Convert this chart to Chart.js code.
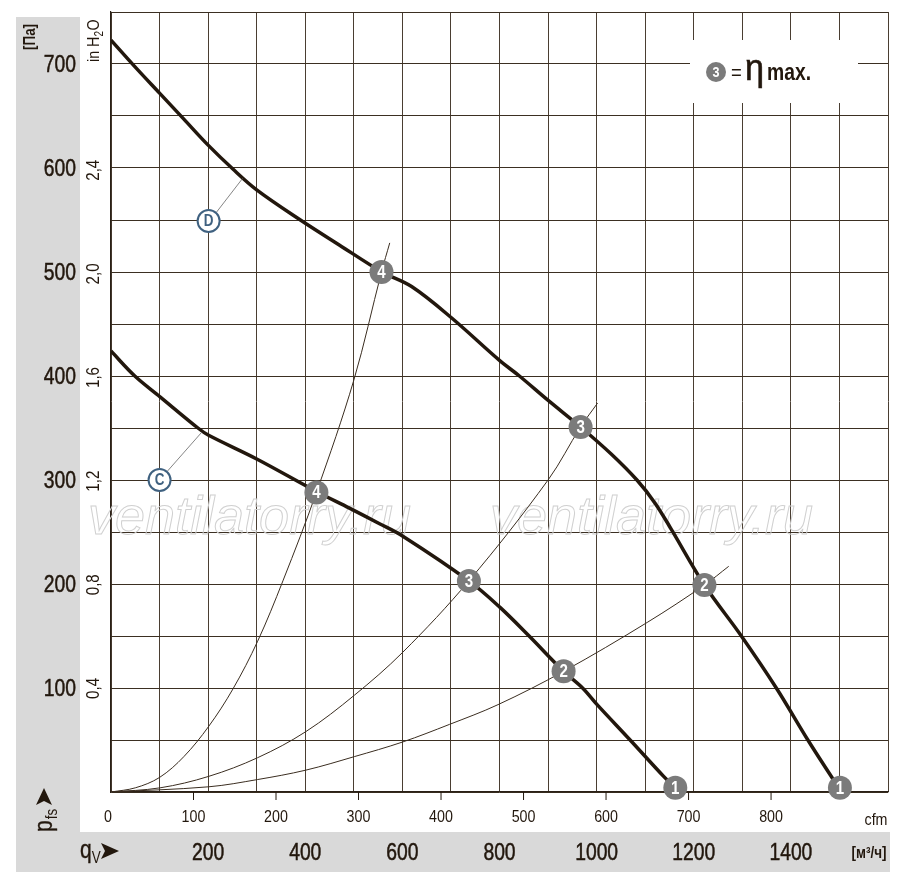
<!DOCTYPE html>
<html>
<head>
<meta charset="utf-8">
<script src="https://cdn.jsdelivr.net/npm/chart.js@4.4.0/dist/chart.umd.min.js"></script>
<style>
  html, body { margin: 0; padding: 0; background: #fff; }
  canvas { display: block; }
</style>
</head>
<body>
<canvas id="chart" width="900" height="876"></canvas>
<script>
// Характеристики вентилятора: qV в м³/ч, pfs в Па
var curveDx = [0, 50, 100, 150, 200, 251, 300, 390, 470, 558, 619, 701, 800, 841, 899, 967, 1030, 1083, 1120, 1152, 1222, 1298, 1370, 1435, 1486, 1501];
var curveDy = [723, 697, 672, 647, 622, 599, 579, 550, 526, 500, 486, 456, 415, 400, 377, 351, 325, 300, 278, 254, 199, 150, 100, 50, 13, 3];

var curveCx = [0, 49, 101, 179, 201, 301, 423, 491, 553, 601, 737, 800, 861, 932, 971, 1001, 1069, 1138, 1162];
var curveCy = [424, 400, 380, 350, 343, 320, 289, 273, 258, 246, 203, 178, 150, 116, 100, 84, 50, 15, 4];

// Кривые сети (тонкие линии)
var sys4x = [0, 50, 100, 150, 201, 251, 302, 354, 423, 500, 557, 574];
var sys4y = [0, 4, 14, 34, 63, 99, 145, 203, 288, 396, 500, 528];
var sys3x = [0, 101, 201, 302, 401, 501, 600, 737, 900, 967, 1002];
var sys3y = [0, 4, 15, 33, 58, 93, 134, 203, 300, 351, 374];
var sys2x = [0, 201, 302, 401, 501, 600, 697, 797, 932, 1104, 1222, 1272];
var sys2y = [0, 5, 12, 21, 34, 48, 65, 84, 116, 163, 199, 217];

// Рабочие точки
var markerX = [557, 967, 1222, 1501, 423, 737, 932, 1162];
var markerY = [500, 351, 199, 4, 288, 203, 116, 4];
var markerNum = ['4', '3', '2', '1', '4', '3', '2', '1'];

// Подписи осей
var paTicks = [100, 200, 300, 400, 500, 600, 700];
var inH2OTicks = ['0,4', '0,8', '1,2', '1,6', '2,0', '2,4'];
var cfmTicks = [0, 100, 200, 300, 400, 500, 600, 700, 800];
var m3hTicks = [200, 400, 600, 800, 1000, 1200, 1400];

var FONT = "'Liberation Sans', Arial, sans-serif";
var INK = '#22170d';
var SQ = 0.84; // сжатие шрифта по горизонтали (узкий гротеск)

function pts(xs, ys) {
    return xs.map(function (v, i) { return { x: v, y: ys[i] }; });
}

// текст с горизонтальным сжатием и поворотом
function txt(ctx, s, x, y, size, o) {
    o = o || {};
    ctx.save();
    ctx.translate(x, y);
    if (o.rot) ctx.rotate(o.rot);
    ctx.scale(o.sx || SQ, 1);
    ctx.font = (o.bold ? 'bold ' : '') + size + 'px ' + FONT;
    ctx.textAlign = o.align || 'left';
    ctx.textBaseline = o.base || 'alphabetic';
    ctx.fillStyle = o.color || INK;
    ctx.fillText(s, 0, 0);
    if (o.heavy) {
        ctx.strokeStyle = o.color || INK;
        ctx.lineWidth = o.heavy;
        ctx.strokeText(s, 0, 0);
    }
    var w = ctx.measureText(s).width * (o.sx || SQ);
    ctx.restore();
    return w;
}

var decorPlugin = {
    id: 'decor',
    beforeDraw: function (chart) {
        var ctx = chart.ctx;
        ctx.save();
        ctx.fillStyle = '#d9d9d9';
        ctx.fillRect(16, 17, 64, 855);
        ctx.fillRect(16, 832, 874, 40);
        ctx.restore();
    },
    beforeDatasetsDraw: function (chart) {
        // водяной знак
        var ctx = chart.ctx;
        ctx.save();
        ctx.font = "italic 54px 'Liberation Sans', sans-serif";
        ctx.strokeStyle = '#d0d0d0';
        ctx.lineWidth = 1;
        ctx.strokeText('ventilatorry.ru', 88, 534);
        ctx.strokeText('ventilatorry.ru', 490, 534);
        ctx.restore();
    },
    afterDatasetsDraw: function (chart) {
        var ctx = chart.ctx;
        var xs = chart.scales.x, ys = chart.scales.y;

        // номера рабочих точек
        markerNum.forEach(function (n, i) {
            txt(ctx, n, xs.getPixelForValue(markerX[i]), ys.getPixelForValue(markerY[i]) + 1, 18,
                { bold: true, align: 'center', base: 'middle', color: '#fff' });
        });

        // обозначения кривых C и D
        var tags = [
            { t: 'D', x: 201, y: 549, lx: 271, ly: 590 },
            { t: 'C', x: 100, y: 300, lx: 187, ly: 346 }
        ];
        ctx.save();
        tags.forEach(function (g) {
            var cx = xs.getPixelForValue(g.x), cy = ys.getPixelForValue(g.y);
            var ex = xs.getPixelForValue(g.lx), ey = ys.getPixelForValue(g.ly);
            ctx.strokeStyle = '#666';
            ctx.lineWidth = 0.8;
            ctx.beginPath();
            ctx.moveTo(cx + 8, cy - 9);
            ctx.lineTo(ex, ey);
            ctx.stroke();
            ctx.beginPath();
            ctx.arc(cx, cy, 11, 0, Math.PI * 2);
            ctx.fillStyle = '#fff';
            ctx.fill();
            ctx.strokeStyle = '#3f6180';
            ctx.lineWidth = 2;
            ctx.stroke();
            txt(ctx, g.t, cx, cy + 1, 16, { bold: true, align: 'center', base: 'middle', color: '#3f6180' });
        });

        // легенда 3 = η max.
        ctx.fillStyle = '#fff';
        ctx.fillRect(690, 40, 168, 63);
        ctx.beginPath();
        ctx.arc(716, 72, 10, 0, Math.PI * 2);
        ctx.fillStyle = '#7b7b7b';
        ctx.fill();
        ctx.restore();
        txt(ctx, '3', 716, 73, 15, { bold: true, align: 'center', base: 'middle', color: '#fff' });
        txt(ctx, '=', 731, 80, 22, {});
        txt(ctx, 'η', 745, 80, 36, { sx: 0.95, heavy: 0.6 });
        txt(ctx, 'max.', 767, 80, 23, { bold: true });
    },
    afterDraw: function (chart) {
        var ctx = chart.ctx;
        var xs = chart.scales.x, ys = chart.scales.y;
        var R = -Math.PI / 2;

        // Па
        paTicks.forEach(function (v) {
            txt(ctx, String(v), 76, ys.getPixelForValue(v) + 8, 23, { align: 'right', heavy: 0.5 });
        });

        // in H2O (повернутые)
        inH2OTicks.forEach(function (t) {
            var pa = parseFloat(t.replace(',', '.')) * 249.1;
            txt(ctx, t, 99, ys.getPixelForValue(pa), 18, { rot: R, align: 'center' });
        });
        var w = txt(ctx, 'in H', 99, 62, 17, { rot: R });
        txt(ctx, '2', 103, 62 - w, 12, { rot: R });
        txt(ctx, 'O', 99, 62 - w - 6, 17, { rot: R });

        txt(ctx, '[Па]', 35, 50, 16, { rot: R, bold: true });

        // p_fs ➤
        w = txt(ctx, 'p', 52, 832, 25, { rot: R, heavy: 0.4 });
        txt(ctx, 'fs', 57, 832 - w - 1, 16, { rot: R });
        ctx.save();
        ctx.fillStyle = INK;
        ctx.translate(52, 832);
        ctx.rotate(R);
        ctx.beginPath();
        ctx.moveTo(27, -16);
        ctx.lineTo(44, -8);
        ctx.lineTo(27, 0);
        ctx.lineTo(31, -8);
        ctx.closePath();
        ctx.fill();
        ctx.restore();

        // cfm
        var cfm = 1.699;
        ctx.save();
        ctx.strokeStyle = INK;
        ctx.lineWidth = 1;
        cfmTicks.forEach(function (v) {
            var px = xs.getPixelForValue(v * cfm);
            if (v > 0) {
                ctx.beginPath();
                ctx.moveTo(px, ys.bottom);
                ctx.lineTo(px, ys.bottom + 8);
                ctx.stroke();
            }
            txt(ctx, String(v), v === 0 ? px - 3 : px, 822, 17, { align: 'center' });
        });
        ctx.restore();
        txt(ctx, 'cfm', 876, 825, 17, { align: 'center' });

        // м³/ч
        m3hTicks.forEach(function (v) {
            txt(ctx, String(v), xs.getPixelForValue(v), 860, 23, { align: 'center', heavy: 0.5 });
        });
        txt(ctx, '[м³/ч]', 869, 858, 16, { bold: true, align: 'center' });

        // q_V ➤
        w = txt(ctx, 'q', 80, 858, 25, { heavy: 0.4 });
        txt(ctx, 'V', 80 + w, 863, 16, {});
        ctx.save();
        ctx.fillStyle = INK;
        ctx.beginPath();
        ctx.moveTo(101, 843);
        ctx.lineTo(119, 851);
        ctx.lineTo(101, 859);
        ctx.lineTo(105, 851);
        ctx.closePath();
        ctx.fill();
        ctx.restore();
    }
};

var thick = { borderColor: INK, borderWidth: 3.5, pointRadius: 0, tension: 0.35, fill: false, order: 1 };
var thin = { borderColor: '#3a2d20', borderWidth: 1, pointRadius: 0, tension: 0.35, fill: false, order: 2 };

new Chart(document.getElementById('chart'), {
    type: 'line',
    data: {
        datasets: [
            Object.assign({ label: 'D', data: pts(curveDx, curveDy) }, thick),
            Object.assign({ label: 'C', data: pts(curveCx, curveCy) }, thick),
            Object.assign({ label: 'sys4', data: pts(sys4x, sys4y) }, thin),
            Object.assign({ label: 'sys3', data: pts(sys3x, sys3y) }, thin),
            Object.assign({ label: 'sys2', data: pts(sys2x, sys2y) }, thin),
            {
                type: 'scatter',
                label: 'points',
                data: pts(markerX, markerY),
                pointRadius: 12,
                pointHoverRadius: 12,
                pointBackgroundColor: '#7b7b7b',
                pointBorderWidth: 0,
                clip: false,
                order: 0
            }
        ]
    },
    options: {
        responsive: false,
        animation: false,
        events: [],
        layout: { padding: { left: 111, top: 12, right: 8, bottom: 84 } },
        plugins: { legend: { display: false }, tooltip: { enabled: false } },
        scales: {
            x: {
                type: 'linear', min: 0, max: 1600,
                ticks: { display: false, stepSize: 100 },
                grid: { color: '#4a3e32', lineWidth: 1, drawTicks: false },
                border: { color: '#2a2016', width: 1.2 }
            },
            y: {
                type: 'linear', min: 0, max: 750,
                ticks: { display: false, stepSize: 50 },
                grid: { color: '#3b2f22', lineWidth: 1, drawTicks: false },
                border: { color: '#2a2016', width: 1.2 }
            }
        }
    },
    plugins: [decorPlugin]
});
</script>
</body>
</html>
